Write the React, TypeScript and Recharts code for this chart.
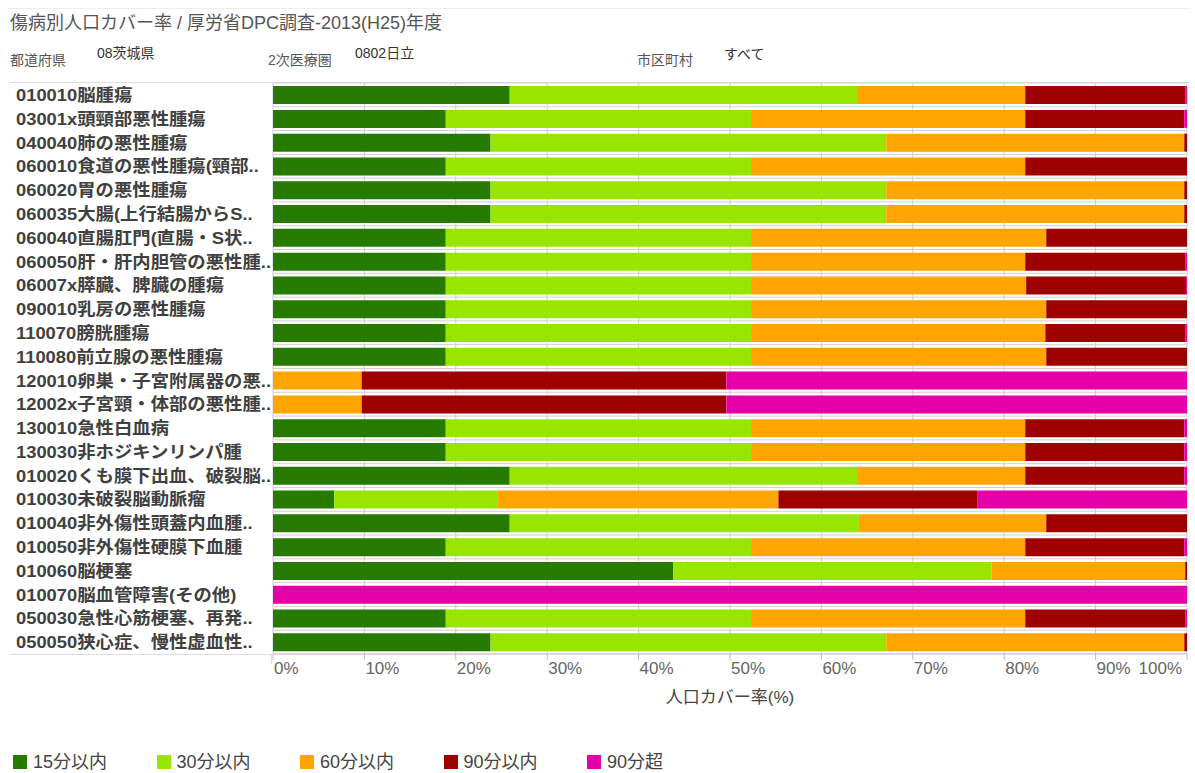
import React from "react";
import { BarChart, Bar, XAxis, YAxis, CartesianGrid } from "recharts";

const categories = [
  "010010脳腫瘍",
  "03001x頭頸部悪性腫瘍",
  "040040肺の悪性腫瘍",
  "060010食道の悪性腫瘍(頸部..",
  "060020胃の悪性腫瘍",
  "060035大腸(上行結腸からS..",
  "060040直腸肛門(直腸・S状..",
  "060050肝・肝内胆管の悪性腫..",
  "06007x膵臓、脾臓の腫瘍",
  "090010乳房の悪性腫瘍",
  "110070膀胱腫瘍",
  "110080前立腺の悪性腫瘍",
  "120010卵巣・子宮附属器の悪..",
  "12002x子宮頸・体部の悪性腫..",
  "130010急性白血病",
  "130030非ホジキンリンパ腫",
  "010020くも膜下出血、破裂脳..",
  "010030未破裂脳動脈瘤",
  "010040非外傷性頭蓋内血腫..",
  "010050非外傷性硬膜下血腫",
  "010060脳梗塞",
  "010070脳血管障害(その他)",
  "050030急性心筋梗塞、再発..",
  "050050狭心症、慢性虚血性..",
];

const within15 = [25.9, 18.9, 23.8, 18.9, 23.8, 23.8, 18.9, 18.9, 18.9, 18.9, 18.9, 18.9, 0, 0, 18.9, 18.9, 25.9, 6.7, 25.9, 18.9, 43.8, 0, 18.9, 23.8];
const within30 = [38.0, 33.4, 43.3, 33.4, 43.3, 43.3, 33.4, 33.4, 33.4, 33.4, 33.4, 33.4, 0, 0, 33.4, 33.4, 38.0, 17.9, 38.2, 33.4, 34.8, 0, 33.4, 43.3];
const within60 = [18.4, 30.0, 32.6, 30.0, 32.6, 32.6, 32.3, 30.0, 30.1, 32.3, 32.2, 32.3, 9.7, 9.7, 30.0, 30.0, 18.4, 30.7, 20.5, 30.0, 21.2, 0, 30.0, 32.6];
const within90 = [17.5, 17.4, 0.3, 17.7, 0.3, 0.3, 15.4, 17.5, 17.5, 15.4, 15.3, 15.4, 39.9, 39.9, 17.4, 17.4, 17.4, 21.8, 15.4, 17.4, 0.2, 0, 17.5, 0.3];
const over90 = [0.2, 0.3, 0, 0, 0, 0, 0, 0.2, 0.1, 0, 0.2, 0, 50.4, 50.4, 0.3, 0.3, 0.3, 22.9, 0, 0.3, 0, 100, 0.2, 0];

const seriesNames = ["15分以内", "30分以内", "60分以内", "90分以内", "90分超"];
const seriesKeys = ["s15", "s30", "s60", "s90", "s90p"];
const seriesColors = ["#267A00", "#98E600", "#FFA500", "#9E0000", "#E600A8"];
const xTicks = [0, 10, 20, 30, 40, 50, 60, 70, 80, 90, 100];

const data = categories.map((name, i) => ({
  name,
  s15: within15[i],
  s30: within30[i],
  s60: within60[i],
  s90: within90[i],
  s90p: over90[i],
}));

const latinFont = "'Liberation Sans', Arial, 'Noto Sans CJK JP', sans-serif";

const YTick = (props: any) => {
  const { y, payload } = props;
  return (
    <g transform={`translate(16,${y}) scale(1.08,1)`}>
      <text
        x={0}
        y={0}
        dy="0.36em"
        textAnchor="start"
        fontSize={17}
        fontWeight="bold"
        fill="#404040"
        fontFamily={latinFont}
      >
        {payload.value}
      </text>
    </g>
  );
};

const XTick = (props: any) => {
  const { x, y, payload } = props;
  const last = payload.value === 100;
  return (
    <text
      x={last ? x - 1 : x + 1}
      y={y}
      dy="0.71em"
      textAnchor={last ? "end" : "start"}
      fontSize={17}
      fill="#666"
      fontFamily={latinFont}
    >
      {payload.value}%
    </text>
  );
};

const rowBoundaries = (props: any) => {
  const off = props.offset || { top: 83, height: 571 };
  const n = categories.length;
  const res: number[] = [];
  for (let i = 0; i <= n; i++) res.push(off.top + (i * off.height) / n);
  return res;
};

export default function App() {
  return (
    <div style={{ position: "absolute", left: 0, top: 0, width: 1195, height: 773, background: "#fff", overflow: "hidden" }}>
      <div style={{ position: "absolute", left: 8, top: 8, width: 1182, height: 1, background: "#eee" }} />
      <div
        style={{
          position: "absolute",
          left: 10,
          top: 8,
          fontSize: 18,
          color: "#555",
          fontFamily: latinFont,
          whiteSpace: "nowrap",
        }}
      >
        傷病別人口カバー率 / 厚労省DPC調査-2013(H25)年度
      </div>
      <div style={{ position: "absolute", left: 10, top: 49, fontSize: 14, color: "#555", fontFamily: latinFont }}>都道府県</div>
      <div style={{ position: "absolute", left: 97, top: 42, fontSize: 14, color: "#333", fontFamily: latinFont }}>08茨城県</div>
      <div style={{ position: "absolute", left: 268, top: 49, fontSize: 14, color: "#555", fontFamily: latinFont }}>2次医療圏</div>
      <div style={{ position: "absolute", left: 355, top: 42, fontSize: 14, color: "#333", fontFamily: latinFont }}>0802日立</div>
      <div style={{ position: "absolute", left: 637, top: 49, fontSize: 14, color: "#555", fontFamily: latinFont }}>市区町村</div>
      <div style={{ position: "absolute", left: 724, top: 43, fontSize: 14, color: "#333", fontFamily: latinFont }}>すべて</div>
      <div style={{ position: "absolute", left: 10, top: 82, width: 1180, height: 1, background: "#ddd" }} />
      <div style={{ position: "absolute", left: 10, top: 654, width: 262, height: 1, background: "#ddd" }} />
      <div style={{ position: "absolute", left: 271, top: 654, width: 1, height: 10, background: "#ddd" }} />

      <div style={{ position: "absolute", left: 0, top: 0 }}>
        <BarChart
          width={1195}
          height={773}
          data={data}
          layout="vertical"
          margin={{ top: 83, right: 8, left: 0, bottom: 59 }}
          barCategoryGap="13%"
        >
          <CartesianGrid
            stroke="#cfcfcf"
            horizontalCoordinatesGenerator={rowBoundaries}
          />
          <XAxis
            type="number"
            domain={[0, 100]}
            ticks={xTicks}
            allowDataOverflow
            height={60}
            tick={<XTick />}
            tickSize={6}
            tickLine={{ stroke: "#bbb" }}
            axisLine={{ stroke: "#ccc" }}
            label={{
              value: "人口カバー率(%)",
              position: "insideBottom",
              offset: 11,
              fontSize: 17,
              fill: "#444",
              fontFamily: latinFont,
            }}
          />
          <YAxis
            type="category"
            dataKey="name"
            width={273}
            tick={<YTick />}
            tickLine={false}
            axisLine={false}
            interval={0}
          />
          {seriesKeys.map((k, i) => (
            <Bar
              key={k}
              dataKey={k}
              name={seriesNames[i]}
              stackId="a"
              fill={seriesColors[i]}
              isAnimationActive={false}
            />
          ))}
        </BarChart>
      </div>

      <div style={{ position: "absolute", left: 13, top: 752, height: 20 }}>
        {seriesNames.map((n, i) => (
          <div
            key={n}
            style={{
              position: "absolute",
              left: i * 143.5,
              top: 0,
              display: "flex",
              alignItems: "center",
              whiteSpace: "nowrap",
            }}
          >
            <div style={{ width: 14, height: 14, background: seriesColors[i], marginRight: 6 }} />
            <span style={{ fontSize: 18, color: "#444", fontFamily: latinFont, lineHeight: "20px" }}>{n}</span>
          </div>
        ))}
      </div>
    </div>
  );
}
